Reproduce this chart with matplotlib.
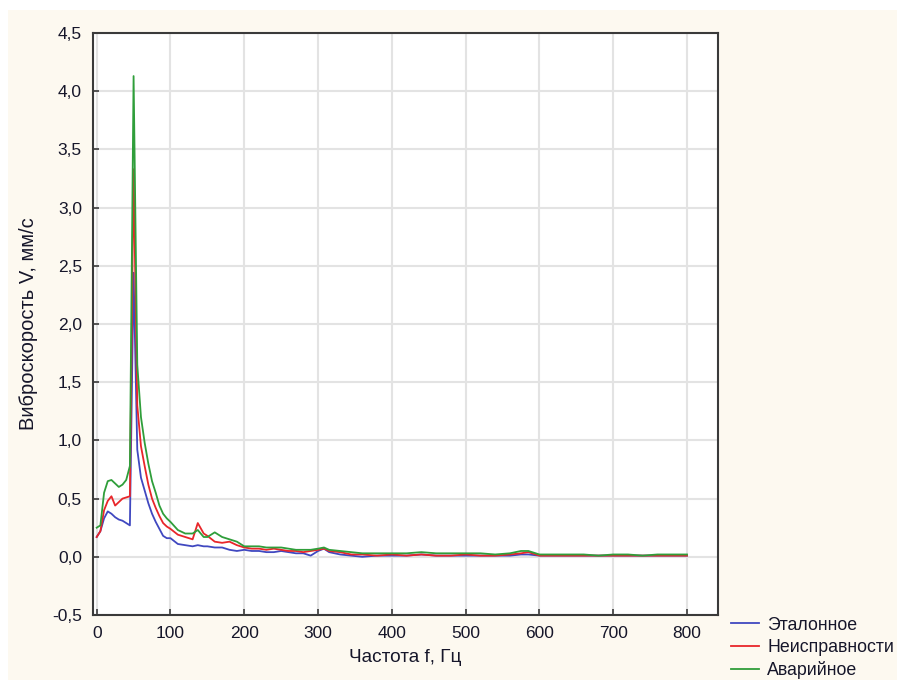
import numpy as np
import matplotlib.pyplot as plt
from matplotlib.patches import Rectangle
from matplotlib.ticker import FuncFormatter, MultipleLocator

plt.rcParams['font.family'] = ['Liberation Sans', 'DejaVu Sans']

# частоты, Гц
freq = [0, 5, 10, 15, 20, 25, 30, 35, 40, 45, 50, 55, 60, 65, 70, 75, 80, 85, 90, 95,
        100, 110, 120, 130, 137, 145, 150, 160, 170, 180, 190, 200, 210, 220, 230, 240,
        250, 260, 270, 280, 290, 300, 308, 315, 330, 345, 360, 380, 400, 420, 440, 460,
        480, 500, 520, 540, 560, 575, 585, 600, 620, 640, 660, 680, 700, 720, 740, 760,
        780, 800]

# виброскорость, мм/с
etalon = [0.17, 0.22, 0.33, 0.39, 0.37, 0.34, 0.32, 0.31, 0.29, 0.27, 2.44, 0.92, 0.68, 0.57,
          0.46, 0.37, 0.30, 0.24, 0.18, 0.16, 0.16, 0.11, 0.10, 0.09, 0.10, 0.09, 0.09, 0.08,
          0.08, 0.06, 0.05, 0.06, 0.05, 0.05, 0.04, 0.04, 0.05, 0.04, 0.03, 0.03, 0.01, 0.05,
          0.07, 0.04, 0.02, 0.01, 0.00, 0.01, 0.01, 0.01, 0.02, 0.01, 0.01, 0.01, 0.01, 0.01,
          0.01, 0.02, 0.02, 0.01, 0.01, 0.01, 0.01, 0.01, 0.01, 0.01, 0.01, 0.01, 0.01, 0.01]

neispr = [0.17, 0.22, 0.40, 0.48, 0.52, 0.44, 0.47, 0.50, 0.51, 0.52, 3.33, 1.30, 0.95, 0.78,
          0.62, 0.50, 0.42, 0.35, 0.29, 0.26, 0.24, 0.19, 0.17, 0.15, 0.29, 0.20, 0.18, 0.13,
          0.12, 0.13, 0.10, 0.08, 0.07, 0.07, 0.06, 0.07, 0.06, 0.05, 0.05, 0.04, 0.05, 0.06,
          0.07, 0.05, 0.04, 0.02, 0.02, 0.01, 0.02, 0.01, 0.02, 0.01, 0.01, 0.02, 0.01, 0.01,
          0.02, 0.03, 0.04, 0.01, 0.01, 0.01, 0.01, 0.01, 0.01, 0.01, 0.01, 0.01, 0.01, 0.01]

avar = [0.25, 0.27, 0.55, 0.65, 0.66, 0.63, 0.60, 0.62, 0.66, 0.78, 4.13, 1.65, 1.20, 0.98,
        0.80, 0.65, 0.55, 0.44, 0.37, 0.33, 0.30, 0.23, 0.20, 0.20, 0.23, 0.17, 0.17, 0.21,
        0.17, 0.15, 0.13, 0.09, 0.09, 0.09, 0.08, 0.08, 0.08, 0.07, 0.06, 0.06, 0.06, 0.07,
        0.08, 0.06, 0.05, 0.04, 0.03, 0.03, 0.03, 0.03, 0.04, 0.03, 0.03, 0.03, 0.03, 0.02,
        0.03, 0.05, 0.05, 0.02, 0.02, 0.02, 0.02, 0.01, 0.02, 0.02, 0.01, 0.02, 0.02, 0.02]

names = ['Эталонное', 'Неисправности', 'Аварийное']
colors = ['#4048c0', '#e8262a', '#2f9e3a']
txt_color = '#16162a'

fig = plt.figure(figsize=(8.97, 6.8), dpi=100, facecolor='white')
fig.patches.append(Rectangle((8 / 897, 0), 1, 1 - 10 / 680, transform=fig.transFigure,
                             facecolor='#fdf9f0', edgecolor='none', zorder=-10))
ax = fig.add_axes([93 / 897, 65 / 680, 625 / 897, 582 / 680])
ax.set_facecolor('white')

for ys, nm, c in zip([etalon, neispr, avar], names, colors):
    ax.plot(freq, ys, color=c, lw=1.3, label=nm)

ax.set_xlim(-5, 842)
ax.set_ylim(-0.5, 4.5)
ax.set_xticks(np.arange(0, 801, 100))
ax.yaxis.set_major_locator(MultipleLocator(0.5))
ax.yaxis.set_major_formatter(FuncFormatter(lambda v, p: f'{v:.1f}'.replace('.', ',')))
ax.grid(True, color='#e3e3e3', lw=1.5)
ax.set_axisbelow(True)
for s in ax.spines.values():
    s.set_color('#3a3a3a')
    s.set_linewidth(1.5)
ax.tick_params(direction='in', length=4, width=1.2, color='#3a3a3a',
               labelsize=12.5, labelcolor=txt_color, pad=8)

ax.set_xlabel('Частота f, Гц', fontsize=13.7, color=txt_color, labelpad=6)
ax.set_ylabel('Виброскорость V, мм/с', fontsize=14.5, color=txt_color, labelpad=10)

fig.legend(loc='upper left', bbox_to_anchor=(727 / 897, 1 - 613 / 680), frameon=False,
           fontsize=12.8, handlelength=1.6, handletextpad=0.45, labelspacing=0.3,
           borderaxespad=0, borderpad=0.2, labelcolor=txt_color)

fig.savefig('out.png', dpi=100, facecolor=fig.get_facecolor())
